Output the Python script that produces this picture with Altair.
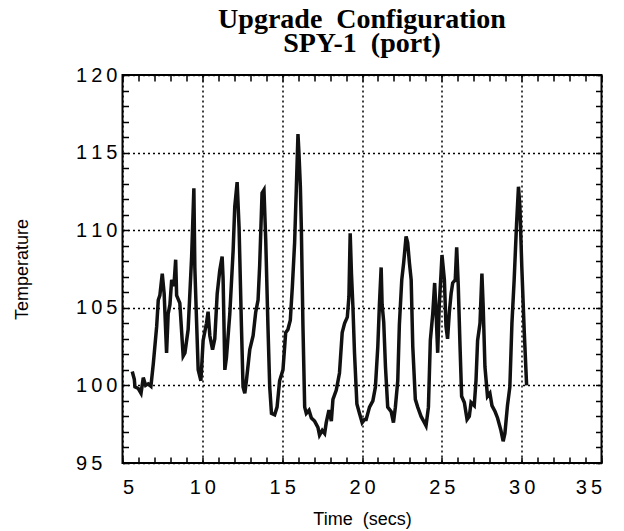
import altair as alt
import pandas as pd

# time (secs) and temperature
time_s = [5.61, 5.74, 5.78, 5.99, 6.16, 6.30, 6.45, 6.61, 6.78, 6.93,
          7.14, 7.24, 7.34, 7.49, 7.61, 7.76, 7.86, 7.97, 8.08, 8.22,
          8.33, 8.39, 8.59, 8.80, 8.91, 9.11, 9.33, 9.47, 9.53, 9.64,
          9.74, 9.91, 10.05, 10.26, 10.36, 10.47, 10.64, 10.78, 10.93, 11.09,
          11.24, 11.30, 11.41, 11.51, 11.72, 11.93, 12.03, 12.18, 12.30, 12.45,
          12.55, 12.66, 12.76, 12.97, 13.18, 13.34, 13.49, 13.59, 13.74, 13.86,
          13.97, 14.11, 14.22, 14.33, 14.53, 14.68, 14.84, 15.05, 15.22, 15.36,
          15.51, 15.64, 15.78, 15.89, 15.99, 16.05, 16.14, 16.20, 16.30, 16.41,
          16.51, 16.68, 16.83, 17.03, 17.24, 17.34, 17.51, 17.66, 17.76, 17.93,
          18.08, 18.18, 18.39, 18.59, 18.76, 18.91, 19.08, 19.18, 19.26, 19.34,
          19.43, 19.53, 19.68, 19.84, 20.01, 20.16, 20.26, 20.47, 20.68, 20.84,
          20.99, 21.09, 21.20, 21.26, 21.36, 21.47, 21.61, 21.83, 21.97, 22.09,
          22.24, 22.34, 22.49, 22.61, 22.76, 22.86, 22.97, 23.08, 23.18, 23.34,
          23.49, 23.70, 23.91, 24.01, 24.16, 24.28, 24.43, 24.55, 24.64, 24.74,
          24.84, 24.95, 25.01, 25.16, 25.26, 25.36, 25.47, 25.58, 25.68, 25.84,
          25.93, 26.03, 26.14, 26.24, 26.41, 26.58, 26.72, 26.83, 27.03, 27.14,
          27.24, 27.39, 27.51, 27.59, 27.70, 27.86, 28.01, 28.14, 28.34, 28.49,
          28.70, 28.84, 28.95, 29.11, 29.26, 29.39, 29.53, 29.68, 29.80, 29.89,
          30.01, 30.16, 30.31]
temperature = [100.9, 100.4, 99.9, 99.8, 99.5, 100.5, 100.0, 100.1, 99.95, 101.4,
               103.8, 105.5, 105.8, 107.2, 105.9, 102.1, 104.6, 105.2, 106.8, 106.4,
               108.1, 105.8, 105.3, 101.9, 102.1, 103.6, 108.3, 112.7, 107.6, 104.1,
               101.0, 100.3, 102.9, 104.0, 104.75, 103.2, 102.3, 103.0, 105.9, 107.4,
               108.3, 106.9, 101.0, 101.8, 104.6, 108.7, 111.5, 113.1, 110.2, 103.8,
               99.9, 99.5, 100.3, 102.3, 103.2, 104.7, 105.5, 107.7, 112.4, 112.6,
               109.4, 103.8, 99.9, 98.2, 98.1, 98.6, 100.3, 101.0, 103.4, 103.6,
               104.2, 106.4, 109.2, 112.8, 116.2, 115.0, 112.8, 110.2, 103.9, 98.6,
               98.2, 98.4, 97.9, 97.7, 97.3, 96.8, 97.1, 96.9, 97.6, 98.4,
               97.7, 99.1, 99.7, 100.8, 103.4, 104.0, 104.4, 105.7, 109.8, 107.2,
               105.1, 102.1, 98.8, 98.2, 97.6, 97.8, 97.8, 98.6, 99.0, 99.9,
               102.5, 105.2, 107.6, 105.2, 104.1, 101.2, 98.6, 98.3, 97.6, 98.6,
               100.3, 103.9, 106.8, 107.9, 109.6, 109.2, 107.9, 106.8, 102.5, 99.1,
               98.6, 98.0, 97.6, 97.4, 98.6, 102.9, 104.6, 106.6, 104.7, 102.1,
               105.2, 107.2, 108.4, 106.8, 103.8, 103.0, 104.7, 105.9, 106.6, 106.8,
               108.9, 106.4, 102.5, 99.3, 98.9, 97.8, 98.0, 98.9, 98.7, 100.3,
               102.9, 104.0, 107.2, 105.1, 101.2, 99.3, 99.5, 98.7, 98.3, 97.9,
               97.1, 96.4, 96.9, 98.7, 99.9, 104.0, 106.8, 110.4, 112.8, 111.5,
               107.6, 103.5, 100.0]

x_ticks = [5, 10, 15, 20, 25, 30, 35]
y_ticks = [95, 100, 105, 110, 115, 120]
x_minor = list(range(5, 36))
y_minor = list(range(95, 121))
title_lines = ["Upgrade\u00a0 Configuration", "SPY-1\u00a0 (port)"]

df = pd.DataFrame({"t": time_s, "temp": temperature})

W, H = 479, 388
xs = alt.Scale(domain=[5, 35], nice=False, zero=False)
ys = alt.Scale(domain=[95, 120], nice=False, zero=False)
spaced = "join(split(datum.label, ''), '\u2009')"

main = alt.Chart(df).mark_line(color="#111111", strokeWidth=3.5).encode(
    x=alt.X("t:Q", scale=xs,
            axis=alt.Axis(orient="bottom", values=x_ticks, title="Time\u00a0 (secs)",
                          ticks=False, tickSize=0, domain=False,
                          labelFont="Liberation Sans", labelFontSize=20, labelColor="black",
                          labelPadding=24, labelBaseline="middle", labelExpr=spaced,
                          titleFont="Liberation Sans", titleFontSize=18, titleFontWeight="normal",
                          titleColor="black", titleY=56, titleBaseline="middle",
                          grid=True, gridColor="black", gridDash=[2, 3], gridWidth=1.5,
                          gridOpacity=1)),
    y=alt.Y("temp:Q", scale=ys,
            axis=alt.Axis(orient="left", values=y_ticks, title="Temperature",
                          ticks=False, tickSize=0, domain=False,
                          labelFont="Liberation Sans", labelFontSize=20, labelColor="black",
                          labelAlign="left", labelPadding=47, labelBaseline="middle",
                          labelExpr=spaced,
                          titleFont="Liberation Sans", titleFontSize=18, titleFontWeight="normal",
                          titleColor="black", titleX=-100, titleY=H / 2, titleAngle=270,
                          titleBaseline="middle", titleAlign="center",
                          grid=True, gridColor="black", gridDash=[2, 3], gridWidth=1.5,
                          gridOpacity=1)),
)


def tick_axis(orient, values, off):
    return alt.Axis(orient=orient, values=values, offset=off, labels=False, domain=False,
                    grid=False, ticks=True, tickSize=6, tickColor="black", tickWidth=1.5,
                    title=None)


inner1 = alt.Chart(df).mark_line(strokeOpacity=0).encode(
    x=alt.X("t:Q", scale=xs, axis=tick_axis("top", x_minor, -H)),
    y=alt.Y("temp:Q", scale=ys, axis=tick_axis("right", y_minor, -W)),
)
inner2 = alt.Chart(df).mark_line(strokeOpacity=0).encode(
    x=alt.X("t:Q", scale=xs, axis=tick_axis("bottom", x_minor, -H)),
    y=alt.Y("temp:Q", scale=ys, axis=tick_axis("left", y_minor, -W)),
)

chart = alt.layer(main, inner1, inner2).resolve_axis(
    x="independent", y="independent"
).properties(
    width=W, height=H,
    title=alt.TitleParams(title_lines, font="Liberation Serif", fontSize=28,
                          fontWeight="bold", color="black", anchor="middle",
                          frame="group", lineHeight=24, offset=7),
    autosize=alt.AutoSizeParams(type="none"),
    padding={"left": 114.5, "top": 67, "right": 10, "bottom": 66},
    background="white",
).configure_view(stroke="black", strokeWidth=2)

chart.save("out.html", embed_options={"renderer": "svg", "actions": False})
